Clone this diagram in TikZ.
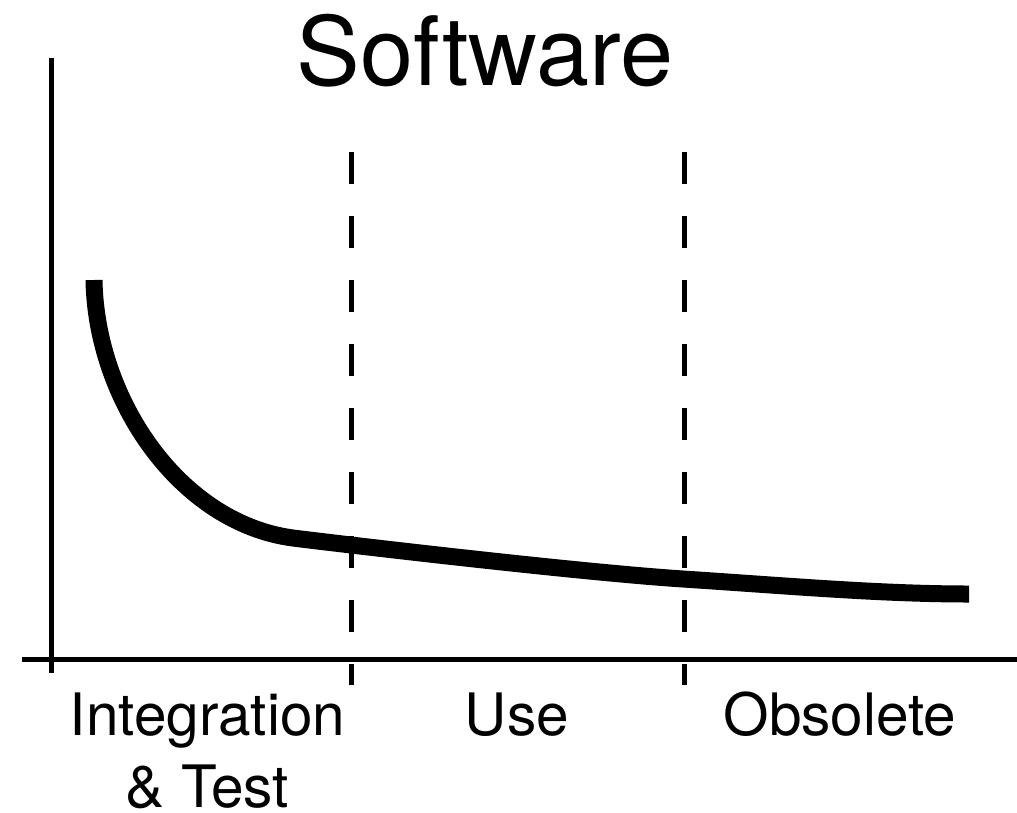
\documentclass[tikz,border=0pt]{standalone}
\usepackage{fontspec}
\setmainfont{TeX Gyre Heros}
\begin{document}
\begin{tikzpicture}[x=1pt,y=-1pt,
  axis/.style={line width=5pt},
  divider/.style={line width=5pt, dash pattern=on 32pt off 32pt},
  trend/.style={line width=17pt, line cap=butt},
  label/.style={anchor=base, inner sep=0pt, font=\fontsize{58.5}{72}\selectfont},
  titletext/.style={anchor=base, inner sep=0pt, font=\fontsize{95.5}{110}\selectfont}]
\useasboundingbox (0,0) rectangle (1017,812);
% axes
\coordinate (ytop) at (51,58);
\coordinate (ybot) at (51,673);
\coordinate (xl) at (22,659);
\coordinate (xr) at (1017,659);
\draw[axis] (ytop) -- (ybot);
\draw[axis] (xl) -- (xr);
% dividers
\coordinate (d1t) at (351,152);
\coordinate (d1b) at (351,685);
\coordinate (d2t) at (684,152);
\coordinate (d2b) at (684,685);
\draw[divider] (d1t) -- (d1b);
\draw[divider] (d2t) -- (d2b);
% curve
\coordinate (c0) at (94,280);
\coordinate (c1) at (293,538);
\coordinate (c2) at (683,579);
\coordinate (c3) at (969,594);
\draw[trend] (c0) .. controls (96,400) and (180,523) .. (c1)
  .. controls (313,540.6) and (573,571.85) .. (c2)
  .. controls (783,585.5) and (880,594) .. (c3);
% texts
\node[titletext] (title) at (485,85) {Software};
\node[label] (integ) at (207.5,735) {Integration};
\node[label] (test) at (207.5,807) {\& Test};
\node[label] (use) at (517,735) {Use};
\node[label] (obs) at (840,735) {Obsolete};
\end{tikzpicture}
\end{document}
